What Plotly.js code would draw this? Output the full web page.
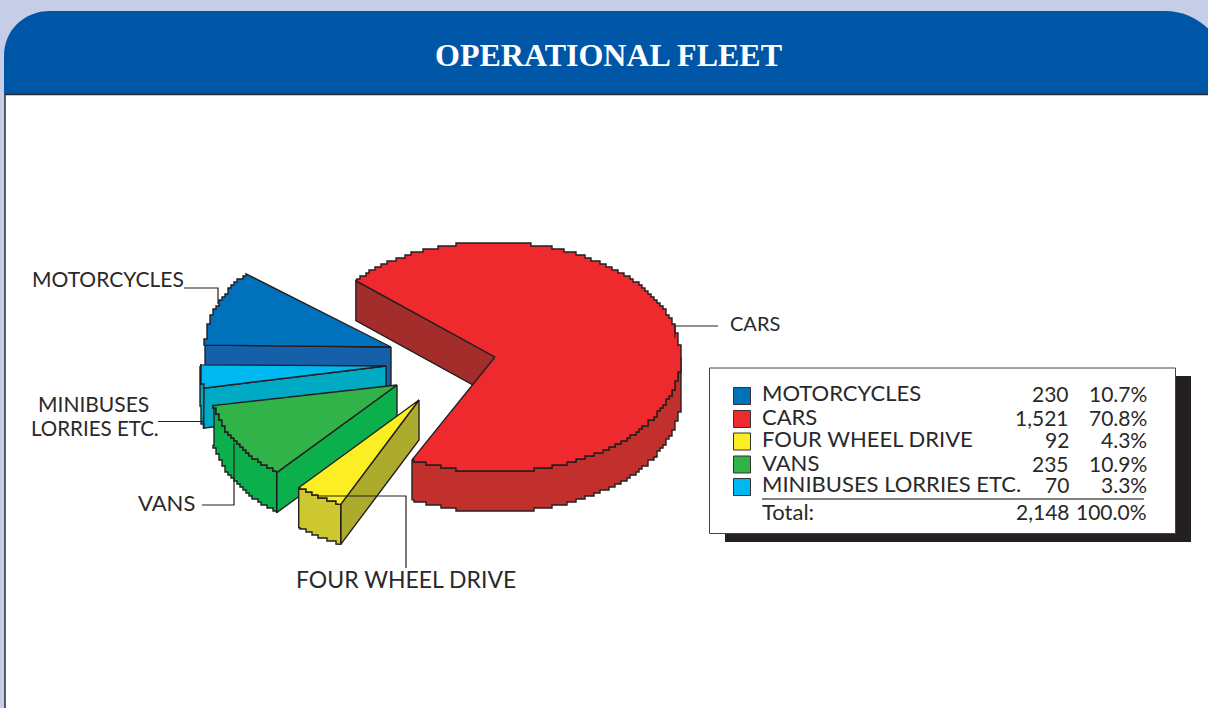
<!DOCTYPE html>
<html><head><meta charset="utf-8">
<script src="https://cdn.plot.ly/plotly-3.0.1.min.js"></script>
<style>html,body{margin:0;padding:0;background:#C6CEE7}#c{width:1208px;height:708px}</style>
</head><body><div id="c"></div>
<script>
// ---- data ----
const categories = ['MOTORCYCLES', 'CARS', 'FOUR WHEEL DRIVE', 'VANS', 'MINIBUSES LORRIES ETC.'];
const counts = [230, 1521, 92, 235, 70];
const countLabels = ['230', '1,521', '92', '235', '70'];
const percents = ['10.7%', '70.8%', '4.3%', '10.9%', '3.3%'];
const totalLabel = 'Total:';
const totalCount = '2,148';
const totalPercent = '100.0%';

// ---- styling and placement (axes run in page pixels) ----
const topColors = ['#0072BC', '#EE2A2E', '#FBEE22', '#31B34A', '#00B8F0'];
const arcColors = ['#1560A8', '#C2302E', '#CEC830', '#0BAF4C', '#00A9C4'];
const sideColors = ['#1560A8', '#A32D2A', '#ADAB2E', '#0BAF4C', '#00A9C4'];
const INK = '#231F20';
const RX = 186, RY = 115, DEPTH = 40, STEP = 3;
const apexes = [[391, 347], [495, 357], [419, 400], [397, 385], [386, 366]];
// lowest angle of each exploded slice in degrees; its sweep comes from the counts
const lowAngles = [140.5, -116.5, -130.3, -169.7, -180.6];
const paintOrder = [0, 4, 3, 2, 1];

const total = counts.reduce((a, b) => a + b, 0);
const rad = d => d * Math.PI / 180;
function pt(i, deg, dz) {
  return [apexes[i][0] + RX * Math.cos(rad(deg)), apexes[i][1] - RY * Math.sin(rad(deg)) + (dz || 0)];
}
// The original artwork has stair-stepped arcs, so the samples are snapped to a coarse grid.
function arc(i, from, to, dz) {
  const n = Math.max(2, Math.ceil((to - from) * 1.5)), out = [pt(i, from, dz)];
  for (let k = 1; k < n; k++) {
    const p = pt(i, from + (to - from) * k / n, 0);
    const q = [Math.round(p[0] / STEP) * STEP, Math.round(p[1] / STEP) * STEP + (dz || 0)];
    const last = out[out.length - 1];
    if (q[0] !== last[0] || q[1] !== last[1]) {
      if (q[0] !== last[0] && q[1] !== last[1]) out.push([q[0], last[1]]);
      out.push(q);
    }
  }
  out.push(pt(i, to, dz));
  return out;
}
function poly(points, fill, name) {
  return {
    type: 'scatter', mode: 'lines', name, x: points.map(p => p[0]).concat(points[0][0]),
    y: points.map(p => p[1]).concat(points[0][1]), fill: 'toself', fillcolor: fill,
    line: {color: INK, width: 1.4}, hoverinfo: 'name', showlegend: false
  };
}
const traces = [];
paintOrder.forEach(i => {
  const low = lowAngles[i], high = low + counts[i] / total * 360;
  const a = apexes[i], e = pt(i, high);
  // wall under the radial edge that faces the viewer
  traces.push(poly([a, e, [e[0], e[1] + DEPTH], [a[0], a[1] + DEPTH]], sideColors[i], categories[i]));
  // the part of the rim on the lower half of the ellipse shows a wall
  const s = Math.max(low, -180), t = Math.min(high, 0);
  if (t > s) {
    traces.push(poly(arc(i, s, t, 0).concat(arc(i, s, t, DEPTH).reverse()), arcColors[i], categories[i]));
  }
  traces.push(poly([a].concat(arc(i, low, high, 0)), topColors[i], categories[i]));
});

// ---- legend swatches ----
const rowY = [393, 417, 439, 463, 484];
traces.push({
  type: 'scatter', mode: 'markers', x: categories.map(() => 742), y: [396, 419, 441.5, 464.5, 487],
  marker: {symbol: 'square', size: 17, color: topColors, line: {color: '#333', width: 1}},
  hoverinfo: 'skip', showlegend: false
});

const sans = 'Lato, "Open Sans", sans-serif';
const txt = (x, y, text, anchor, size, extra) => Object.assign({
  x, y, text, xref: 'x', yref: 'y', showarrow: false, xanchor: anchor, yanchor: 'middle',
  font: {family: sans, size: size || 20, color: '#2b2829'}
}, extra || {});
const annotations = [
  txt(608, 55, 'OPERATIONAL FLEET', 'center', 32, {font: {family: '"Liberation Serif", serif', size: 32, color: '#fff', weight: 700}}),
  txt(107.5, 278, 'MOTORCYCLES', 'center', 21),
  txt(755, 323, 'CARS', 'center', 20),
  txt(93.5, 403.5, 'MINIBUSES', 'center', 21),
  txt(94.5, 428, 'LORRIES ETC.', 'center', 20.5),
  txt(166.5, 502, 'VANS', 'center', 22),
  txt(406, 579, 'FOUR WHEEL DRIVE', 'center', 23)
];
categories.forEach((c, i) => {
  annotations.push(txt(759.5, rowY[i] - 0.5, c, 'left', 22));
  annotations.push(txt(1070.5, rowY[i] + 0.5, countLabels[i], 'right', 21));
  annotations.push(txt(1148.5, rowY[i] + 0.5, percents[i], 'right', 21));
});
annotations.push(txt(759.5, 511, totalLabel, 'left', 22));
annotations.push(txt(1071.5, 511, totalCount, 'right', 21));
annotations.push(txt(1148.5, 511, totalPercent, 'right', 21));

const leader = (d) => ({type: 'path', path: d, xref: 'x', yref: 'y', layer: 'above', line: {color: INK, width: 1.2}});
const shapes = [
  {type: 'rect', x0: 5, x1: 1230, y0: 60, y1: 720, xref: 'x', yref: 'y', layer: 'below', fillcolor: '#fff', line: {color: '#2b2b33', width: 1.5}},
  {type: 'path', xref: 'x', yref: 'y', layer: 'below', fillcolor: '#0056A6', line: {width: 0},
   path: 'M4,94 L4,56 C4,30 24,11 50,11 L1165,11 C1190,11 1210,25 1225,50 L1225,94 Z'},
  {type: 'line', x0: 5, x1: 1208, y0: 94.5, y1: 94.5, xref: 'x', yref: 'y', layer: 'below', line: {color: '#2b2b33', width: 1.5}},
  {type: 'rect', x0: 725, x1: 1191, y0: 376, y1: 542, xref: 'x', yref: 'y', layer: 'below', fillcolor: INK, line: {width: 0}},
  {type: 'rect', x0: 709.5, x1: 1175.5, y0: 368, y1: 533.5, xref: 'x', yref: 'y', layer: 'below', fillcolor: '#fff', line: {color: '#444', width: 1}},
  {type: 'line', x0: 762, x1: 1144, y0: 499, y1: 499, xref: 'x', yref: 'y', layer: 'below', line: {color: '#555', width: 1.5}},
  leader('M184,288 L218,288 L218,304'),
  leader('M675,338 L675,326 L718,326'),
  leader('M158,421.5 L204,421.5'),
  leader('M202,505 L234,505 L234,443'),
  leader('M317,496 L406,496 L406,568')
];

Plotly.newPlot('c', traces, {
  width: 1208, height: 708, margin: {l: 0, r: 0, t: 0, b: 0},
  paper_bgcolor: '#C6CEE7', plot_bgcolor: 'rgba(0,0,0,0)', showlegend: false,
  xaxis: {range: [0, 1208], visible: false, fixedrange: true},
  yaxis: {range: [708, 0], visible: false, fixedrange: true},
  shapes, annotations, hovermode: 'closest'
}, {displayModeBar: false, staticPlot: true});
</script></body></html>
